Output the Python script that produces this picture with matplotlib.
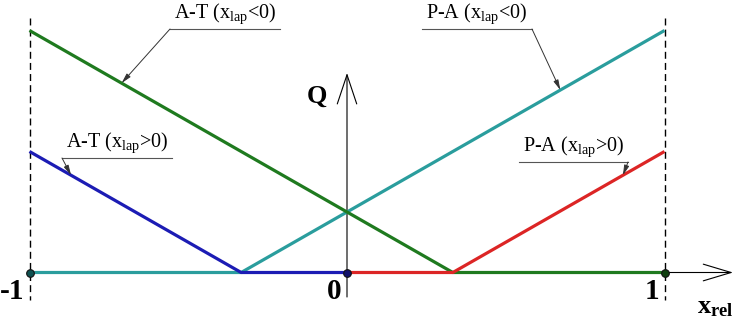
import numpy as np
import matplotlib
matplotlib.use('Agg')
import matplotlib.pyplot as plt

plt.rcParams['font.family'] = ['Liberation Serif', 'DejaVu Serif']
plt.rcParams['mathtext.fontset'] = 'custom'
plt.rcParams['mathtext.rm'] = 'Liberation Serif'
plt.rcParams['mathtext.it'] = 'Liberation Serif:italic'
plt.rcParams['mathtext.bf'] = 'Liberation Serif:bold'
plt.rcParams['lines.scale_dashes'] = False

# ---------------- data ----------------
at_neg_x = [-1.0, 1/3, 1.0]      # A-T (x_lap<0)
at_neg_q = [4/3, 0.0, 0.0]
pa_neg_x = [-1.0, -1/3, 1.0]     # P-A (x_lap<0)
pa_neg_q = [0.0, 0.0, 4/3]
at_pos_x = [-1.0, -1/3, 0.0]     # A-T (x_lap>0)
at_pos_q = [2/3, 0.0, 0.0]
pa_pos_x = [0.0, 1/3, 1.0]       # P-A (x_lap>0)
pa_pos_q = [0.0, 0.0, 2/3]

tick_vals = [-1, 0, 1]
tick_labels = ['-1', '0', '1']
series_labels = [r'A-T ($\mathrm{x_{lap}}$<0)', r'A-T ($\mathrm{x_{lap}}$>0)',
                 r'P-A ($\mathrm{x_{lap}}$<0)', r'P-A ($\mathrm{x_{lap}}$>0)']
pointer_x = [-0.71, -0.869, 0.672, 0.869]

# ---------------- layout ----------------
W, H = 738, 320
X0, SX = 347.0, 317.5
Y0, SY = 272.5, 181.5
def px(u):
    return (u - X0) / SX
def py(v):
    return (Y0 - v) / SY

c_green = '#1f7a1f'
c_teal = '#2a9d9d'
c_blue = '#1c1cb4'
c_red = '#dc2525'

fig = plt.figure(figsize=(W / 100, H / 100), dpi=100)
ax = fig.add_axes([0, 0, 1, 1])
ax.set_xlim(-X0 / SX, (W - X0) / SX)
ax.set_ylim(-(H - Y0) / SY, Y0 / SY)
ax.axis('off')

# dashed boundaries
for v in (tick_vals[0], tick_vals[-1]):
    ax.plot([v, v], [py(18), py(300)], color='black', lw=1.0, ls=(0, (5, 3)), zorder=1)

# axes with open arrows
ax.annotate('', xy=(px(733), 0), xytext=(tick_vals[0], 0),
            arrowprops=dict(arrowstyle='->,head_length=2.0,head_width=0.6',
                            lw=0.8, color='black', shrinkA=0, shrinkB=0), zorder=1)
ax.annotate('', xy=(0, py(73)), xytext=(0, py(297)),
            arrowprops=dict(arrowstyle='->,head_length=2.1,head_width=0.7',
                            lw=0.8, color='black', shrinkA=0, shrinkB=0), zorder=1)

# series
ax.plot(pa_neg_x, pa_neg_q, color=c_teal, lw=2.3, zorder=2, solid_capstyle='butt')
ax.plot(at_neg_x, at_neg_q, color=c_green, lw=2.3, zorder=2, solid_capstyle='butt')
ax.plot(at_pos_x, at_pos_q, color=c_blue, lw=2.3, zorder=3, solid_capstyle='butt')
ax.plot(pa_pos_x, pa_pos_q, color=c_red, lw=2.3, zorder=3, solid_capstyle='butt')

# node dots
dot_cols = ['#0f5050', '#10106a', '#0f400f']
for v, c in zip(tick_vals, dot_cols):
    ax.plot([v], [0], marker='o', ms=5.5, mfc=c, mec='#111111', mew=0.8, zorder=4)

# tick labels
for v, lab in zip(tick_vals, tick_labels):
    ax.text(v - 5 / SX, py(299), lab, ha='right', va='baseline',
            fontsize=21, fontweight='bold', color='black')

ax.text(px(317), py(103), 'Q', ha='center', va='baseline', fontsize=19,
        fontweight='bold', color='black')
ax.text(px(697), py(313), r'$\mathbf{x_{rel}}$', ha='left', va='baseline',
        fontsize=19, color='black')

# callouts: (series x, series q, underline px span, underline y px, leader from left/right)
callouts = [
    (at_neg_x, at_neg_q, (170, 280), 29, 'left'),
    (at_pos_x, at_pos_q, (62, 172), 158, 'left'),
    (pa_neg_x, pa_neg_q, (422, 532), 29, 'right'),
    (pa_pos_x, pa_pos_q, (519, 628), 162, 'right'),
]
for (sx, sq, (a, b), uy, side), lab, ptx in zip(callouts, series_labels, pointer_x):
    ax.plot([px(a), px(b)], [py(uy), py(uy)], color='#555555', lw=0.8, zorder=5)
    start = (px(a), py(uy)) if side == 'left' else (px(b), py(uy))
    tip = (ptx, float(np.interp(ptx, sx, sq)))
    ax.annotate('', xy=tip, xytext=start,
                arrowprops=dict(arrowstyle='-|>,head_length=0.6,head_width=0.15',
                                lw=0.7, color='#333333', shrinkA=0, shrinkB=0), zorder=5)
    ax.text(px((a + b) / 2), py(uy - 3), lab, ha='center', va='bottom',
            fontsize=14.5, color='black')

fig.savefig('out.png', dpi=100, facecolor='white')
